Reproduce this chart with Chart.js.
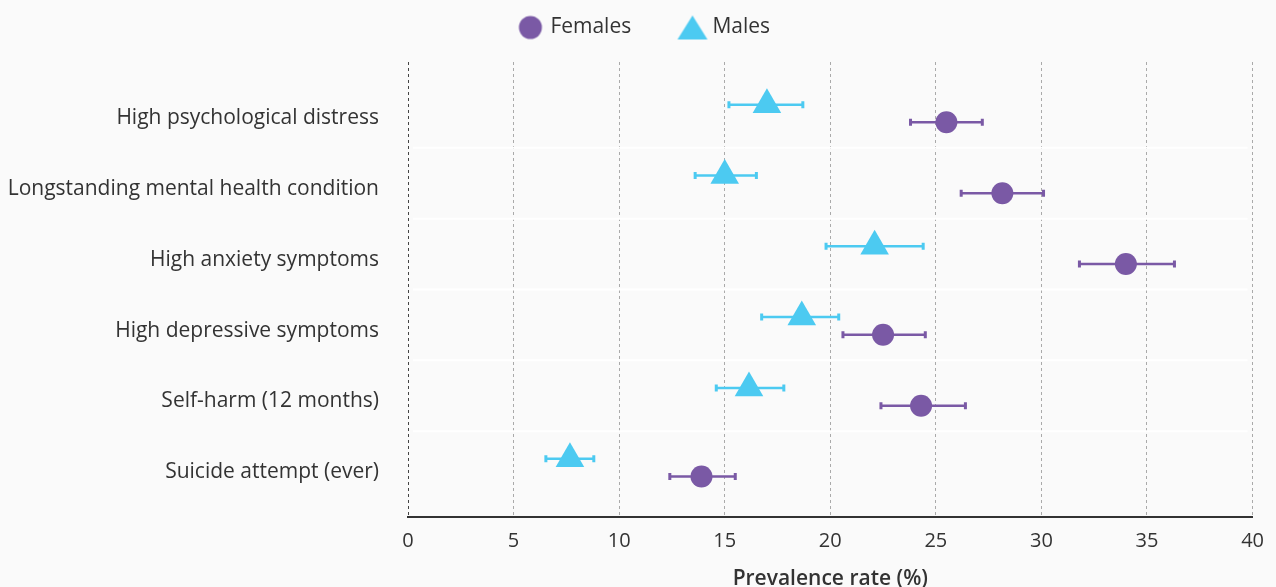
<!DOCTYPE html>
<html>
<head>
<meta charset="utf-8">
<script src="https://cdn.jsdelivr.net/npm/chart.js@4.4.1/dist/chart.umd.min.js"></script>
<style>
  body { margin: 0; background: #fafafa; }
  #wrap { width: 1276px; height: 587px; }
</style>
</head>
<body>
<div id="wrap"><canvas id="prevalenceChart"></canvas></div>
<script>
const categories = [
  'High psychological distress',
  'Longstanding mental health condition',
  'High anxiety symptoms',
  'High depressive symptoms',
  'Self-harm (12 months)',
  'Suicide attempt (ever)'
];
const femalesRate = [25.5, 28.15, 34.0, 22.5, 24.3, 13.9];
const femalesLow  = [23.8, 26.2, 31.8, 20.6, 22.4, 12.4];
const femalesHigh = [27.2, 30.1, 36.3, 24.5, 26.4, 15.5];
const malesRate = [17.0, 15.0, 22.1, 18.65, 16.15, 7.67];
const malesLow  = [15.2, 13.6, 19.8, 16.75, 14.6, 6.53];
const malesHigh = [18.7, 16.5, 24.4, 20.4, 17.8, 8.8];
const xTicks = [0, 5, 10, 15, 20, 25, 30, 35, 40];

const purple = '#7a59a5';
const cyan = '#4ccaf1';
const textColor = '#333';
const fontFamily = "'Open Sans', sans-serif";

// little legend icons, so the triangle can be bigger than the circle
function makeIcon(kind, color) {
  const c = document.createElement('canvas');
  c.width = 32; c.height = 28;
  const g = c.getContext('2d');
  g.fillStyle = color;
  g.beginPath();
  if (kind === 'circle') {
    g.arc(16, 14, 11.5, 0, Math.PI * 2);
  } else {
    g.moveTo(16, 2);
    g.lineTo(31, 26);
    g.lineTo(1, 26);
    g.closePath();
  }
  g.fill();
  return c;
}
const icons = [makeIcon('circle', purple), makeIcon('triangle', cyan)];

// push the plot down below the legend, and nudge the legend right
const legendGap = {
  id: 'legendGap',
  beforeInit(chart) {
    const fit = chart.legend.fit;
    chart.legend.fit = function () {
      fit.bind(chart.legend)();
      this.height += 14;
    };
  },
  afterLayout(chart) {
    chart.legend.left += 19;
    chart.legend.right += 19;
  }
};

const rowBands = {
  id: 'rowBands',
  beforeDatasetsDraw(chart) {
    const { ctx, chartArea } = chart;
    const y = chart.scales.y;
    ctx.save();
    ctx.strokeStyle = '#ffffff';
    ctx.lineWidth = 2;
    for (let i = 0; i < categories.length - 1; i++) {
      const py = y.getPixelForValue(i + 0.5);
      ctx.beginPath();
      ctx.moveTo(chartArea.left + 5, py);
      ctx.lineTo(chartArea.right - 5, py);
      ctx.stroke();
    }
    ctx.restore();
  }
};

const errorBars = {
  id: 'errorBars',
  beforeDatasetsDraw(chart) {
    const { ctx } = chart;
    const x = chart.scales.x;
    ctx.save();
    chart.data.datasets.forEach(ds => {
      ctx.strokeStyle = ds.backgroundColor;
      ds.data.forEach((pt, i) => {
        const py = chart.scales.y.getPixelForValue(pt.y);
        const x1 = x.getPixelForValue(ds.low[i]);
        const x2 = x.getPixelForValue(ds.high[i]);
        ctx.lineWidth = 2.5;
        ctx.beginPath();
        ctx.moveTo(x1, py);
        ctx.lineTo(x2, py);
        ctx.stroke();
        ctx.lineWidth = 3;
        ctx.beginPath();
        ctx.moveTo(x1, py - 3.5);
        ctx.lineTo(x1, py + 3.5);
        ctx.moveTo(x2, py - 3.5);
        ctx.lineTo(x2, py + 3.5);
        ctx.stroke();
      });
    });
    ctx.restore();
  }
};

new Chart(document.getElementById('prevalenceChart'), {
  type: 'scatter',
  data: {
    datasets: [{
      label: 'Females',
      data: femalesRate.map((v, i) => ({ x: v, y: i + 0.14 })),
      low: femalesLow,
      high: femalesHigh,
      backgroundColor: purple,
      borderWidth: 0,
      pointStyle: 'circle',
      pointRadius: 11,
      pointHoverRadius: 11
    }, {
      label: 'Males',
      data: malesRate.map((v, i) => ({ x: v, y: i - 0.11 })),
      low: malesLow,
      high: malesHigh,
      backgroundColor: cyan,
      borderWidth: 0,
      pointStyle: 'triangle',
      pointRadius: 16.5,
      pointHoverRadius: 16.5
    }]
  },
  options: {
    responsive: true,
    maintainAspectRatio: false,
    animation: false,
    layout: { padding: { top: 2, right: 23, bottom: 0, left: 0 } },
    plugins: {
      tooltip: { enabled: false },
      legend: {
        position: 'top',
        labels: {
          usePointStyle: true,
          color: textColor,
          font: { family: fontFamily, size: 21 },
          padding: 15,
          boxWidth: 19,
          generateLabels(chart) {
            return chart.data.datasets.map((ds, i) => ({
              text: i === 0 ? ds.label + '\u2003\u2002\u2005' : ds.label,
              pointStyle: icons[i],
              fillStyle: ds.backgroundColor,
              strokeStyle: ds.backgroundColor,
              lineWidth: 0,
              fontColor: textColor,
              datasetIndex: i
            }));
          }
        }
      }
    },
    scales: {
      x: {
        type: 'linear',
        min: 0,
        max: 40,
        afterBuildTicks(scale) { scale.ticks = xTicks.map(v => ({ value: v })); },
        afterFit(scale) { scale.height = 70; },
        grid: {
          color: ctx => ctx.tick && ctx.tick.value === 0 ? '#444' : '#aaa',
          lineWidth: 1,
          drawTicks: false
        },
        border: { display: true, color: '#333', width: 2, dash: [3, 3] },
        ticks: {
          color: textColor,
          padding: 12,
          font: { family: fontFamily, size: 20 }
        },
        title: {
          display: true,
          text: 'Prevalence rate (%)',
          color: textColor,
          padding: { top: 4, bottom: 0 },
          font: { family: fontFamily, size: 21, weight: '600', lineHeight: 0.75 }
        }
      },
      y: {
        type: 'linear',
        reverse: true,
        min: -0.712,
        max: 5.712,
        // labels sit a few pixels below the row centre
        afterBuildTicks(scale) { scale.ticks = categories.map((c, i) => ({ value: i + 0.08 })); },
        afterFit(scale) { scale.width = 408; },
        grid: { display: false },
        border: { display: false },
        ticks: {
          color: textColor,
          padding: 21,
          font: { family: fontFamily, size: 21 },
          callback: v => categories[Math.round(v)]
        }
      }
    }
  },
  plugins: [legendGap, rowBands, errorBars]
});
</script>
</body>
</html>
